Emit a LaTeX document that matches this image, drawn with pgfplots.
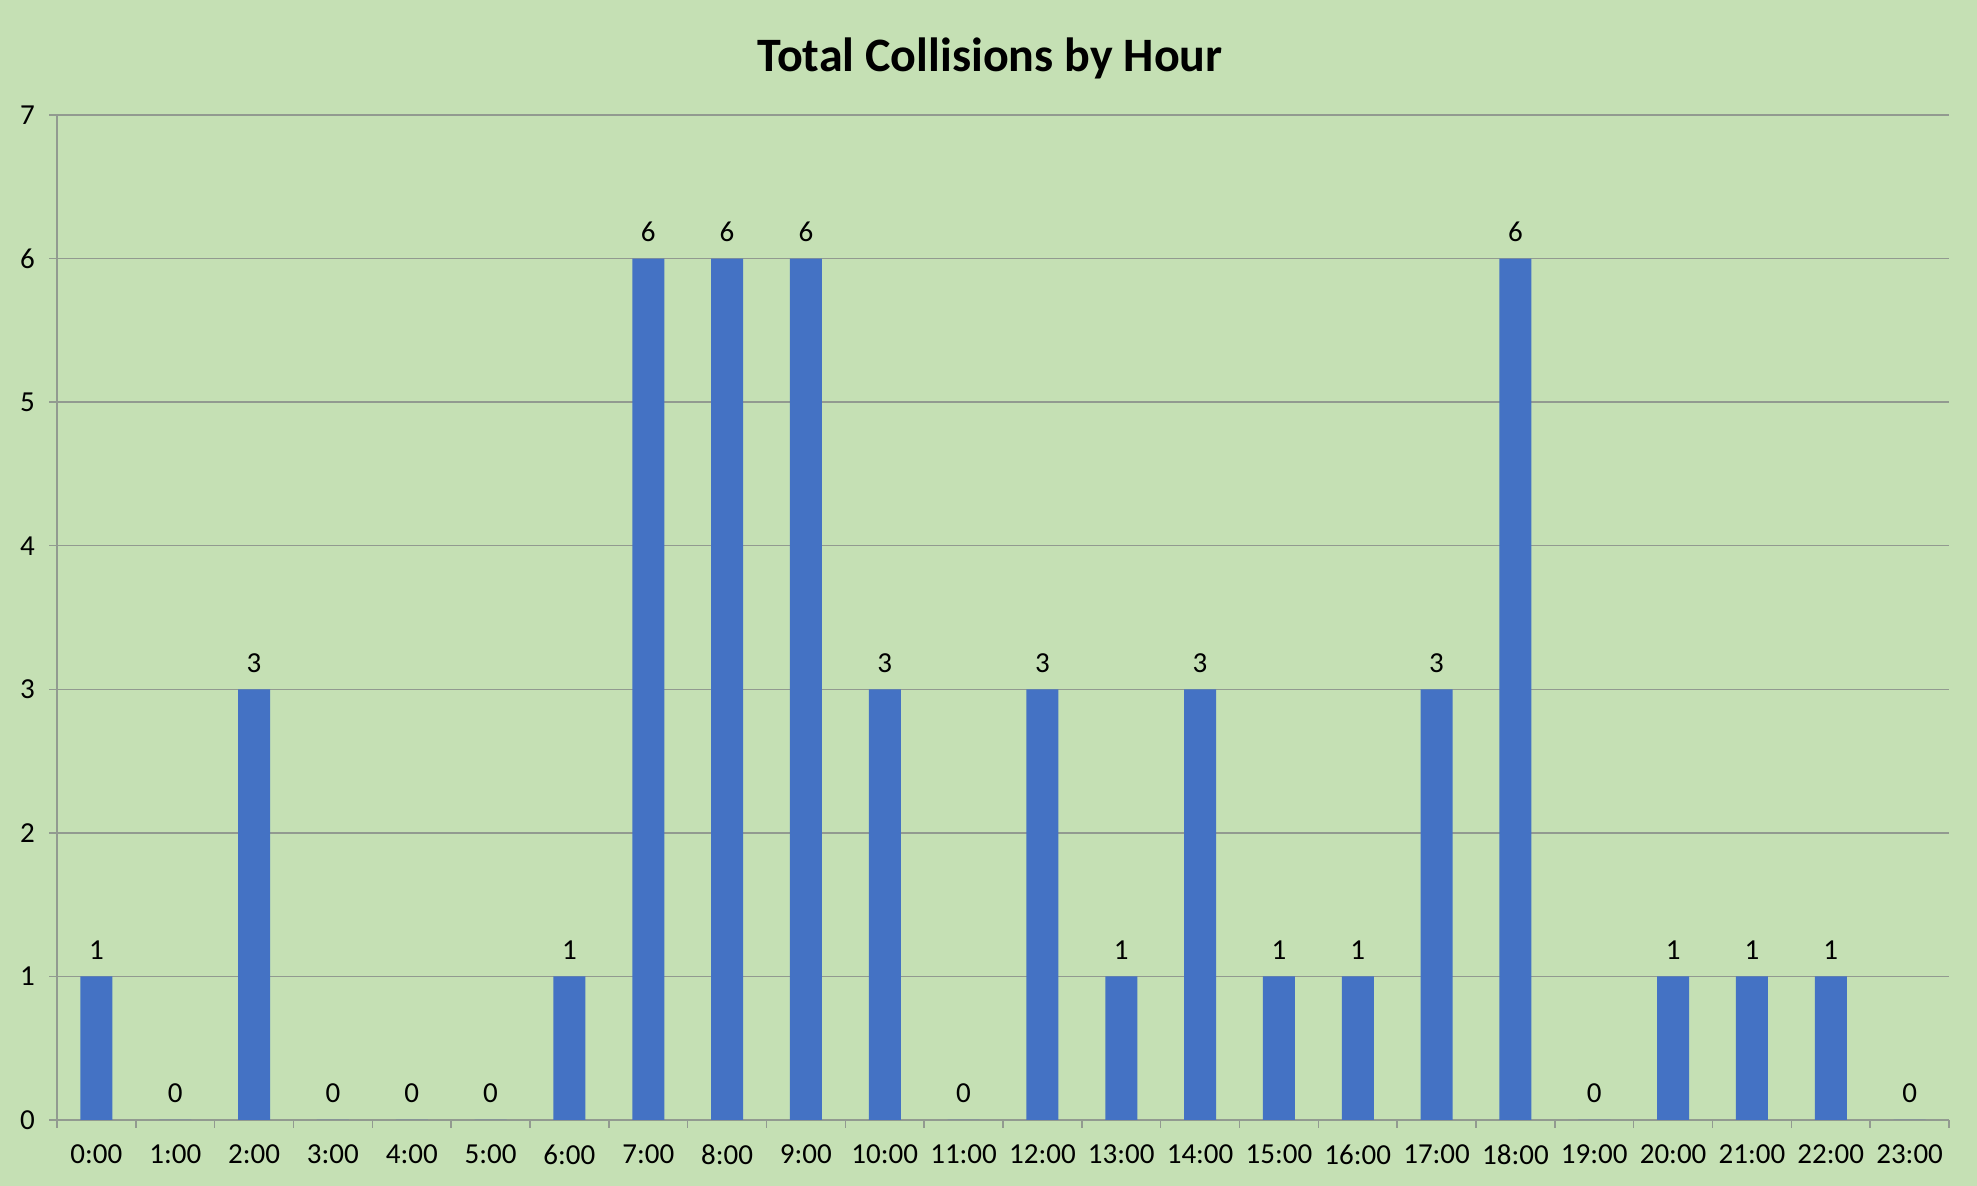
\documentclass[border=0pt]{standalone}
\usepackage{fontspec}
\setmainfont{Carlito}
\usepackage{pgfplots}
\pgfplotsset{compat=1.18}
\definecolor{bg}{HTML}{C5E0B4}
\definecolor{barc}{HTML}{4472C4}
\definecolor{gridc}{HTML}{929A90}
\begin{document}
\begin{tikzpicture}
\fill[bg] (-28.5pt,-33pt) rectangle (960pt,560pt);
\node[font=\bfseries\fontsize{24}{28}\selectfont, anchor=center] at (466.5pt,531pt) {Total Collisions by Hour};
\begin{axis}[
  at={(0pt,0pt)}, anchor=south west,
  scale only axis, width=946pt, height=502.5pt,
  xmin=-0.5, xmax=23.5, ymin=0, ymax=7,
  ybar, bar width=16pt,
  xtick={0,...,23},
  xticklabels={0:00,1:00,2:00,3:00,4:00,5:00,6:00,7:00,8:00,9:00,10:00,11:00,12:00,13:00,14:00,15:00,16:00,17:00,18:00,19:00,20:00,21:00,22:00,23:00},
  minor xtick={-0.5,0.5,...,23.5},
  ytick={0,...,7},
  ymajorgrids, xmajorgrids=false, xminorgrids=false,
  grid style={gridc, line width=0.75pt},
  axis x line*=bottom, axis y line*=left,
  axis line style={gridc, line width=0.75pt},
  tick align=outside,
  major tick length=4pt, minor tick length=4pt,
  every tick/.style={gridc, line width=0.75pt},
  major x tick style={draw=none},
  tick label style={font=\fontsize{14.5}{17}\selectfont},
  yticklabel style={xshift=-3.5pt},
  xticklabel style={yshift=-5pt},
  /pgf/number format/assume math mode=true,
  nodes near coords,
  every node near coord/.append style={font=\fontsize{14.5}{17}\selectfont, text=black, yshift=5pt},
]
\addplot[fill=barc, draw=none] coordinates {
(0,1) (1,0) (2,3) (3,0) (4,0) (5,0) (6,1) (7,6) (8,6) (9,6) (10,3) (11,0)
(12,3) (13,1) (14,3) (15,1) (16,1) (17,3) (18,6) (19,0) (20,1) (21,1) (22,1) (23,0)};
\end{axis}
\end{tikzpicture}
\end{document}
